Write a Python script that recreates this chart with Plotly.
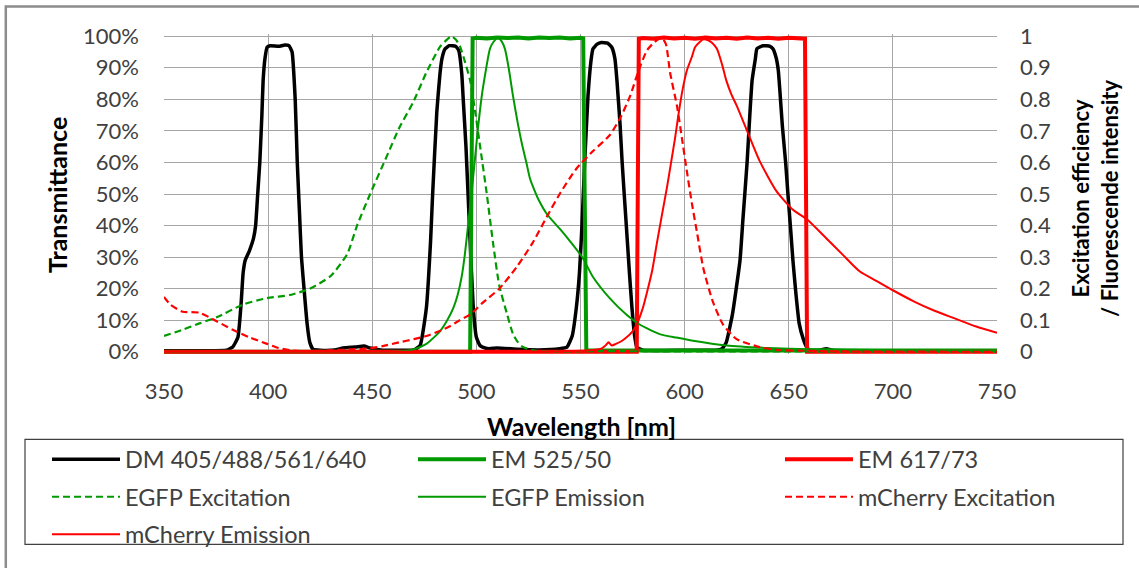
import plotly.graph_objects as go

# ---------------- data ----------------
dm_wl = [350, 370, 380, 383, 385.5, 387, 388, 389, 391, 393, 394, 395, 396, 397, 397.6, 398.5, 399.5, 401, 405, 408, 410, 411.5, 413, 414, 415, 416, 417.5, 418.7, 420, 421.5, 425, 432, 436, 442, 446, 449, 455, 465, 470, 473, 476, 478, 479, 481, 482.5, 483.5, 485, 487, 490, 491.5, 493, 493.6, 495, 496, 497, 498.5, 500, 501.7, 503, 506, 510, 520, 530, 540, 543.5, 546, 548, 549.5, 550.7, 552, 553.6, 555, 556, 558, 560, 563, 565, 566.5, 567.5, 569, 570, 572, 573.5, 574.7, 576, 577, 580, 600, 615, 618, 620, 623, 626.6, 628, 630, 631.3, 632.4, 634, 634.7, 637.6, 641, 642.4, 644, 645, 647, 648.5, 649.6, 651, 652, 653.5, 655, 657, 658.6, 660, 665, 668, 671, 690, 750]
dm_t = [0.3, 0.3, 0.5, 1.5, 4.6, 15, 25, 29, 32, 36, 40, 50, 60, 75, 86, 93, 96.5, 97, 96.8, 97.2, 97, 95, 80, 60, 45, 30, 18, 9, 3, 0.8, 0.5, 0.6, 1.2, 1.5, 1.8, 1.2, 0.5, 0.5, 0.6, 2, 14, 35, 50, 76, 88, 93, 96, 97, 96.8, 95.5, 88, 81, 65, 50, 35, 14, 4.6, 2, 1.5, 1, 1.2, 0.8, 0.6, 1, 1.5, 5, 14, 25, 40, 60, 81, 92, 96, 97.5, 98, 97.8, 96.5, 93, 86, 72, 60, 40, 25, 14, 5, 1.5, 0.5, 0.5, 0.5, 1, 3, 12, 29, 42, 60, 75, 86, 93, 96, 97, 96.8, 96, 93, 89, 71, 60, 50, 38, 29, 18, 9, 4, 1.5, 0.5, 0.5, 1, 0.5, 0.2, 0.2]

em525_wl = [350, 497, 497.6, 498.2, 500, 505, 510, 515, 520, 525, 530, 535, 540, 545, 550, 551.3, 552, 552.8, 560, 600, 650, 700, 750]
em525_t = [0, 0, 50, 99.3, 99.5, 99.3, 99.6, 99.4, 99.6, 99.3, 99.6, 99.4, 99.6, 99.3, 99.5, 99.3, 50, 0.5, 0.4, 0.4, 0.4, 0.4, 0.4]

em617_wl = [350, 577, 577.5, 578, 580, 585, 590, 595, 600, 605, 610, 615, 620, 625, 630, 635, 640, 645, 650, 655, 657.8, 658.3, 658.8, 750]
em617_t = [0, 0, 50, 99.2, 99.4, 99.2, 99.6, 99.3, 99.5, 99.2, 99.6, 99.3, 99.5, 99.2, 99.6, 99.3, 99.5, 99.2, 99.5, 99.3, 99.2, 50, 0, 0]

egfp_ex_wl = [350, 359, 367, 375.5, 388, 399.5, 410.5, 420, 430, 438, 442.7, 449, 457, 463, 469.6, 476, 482.5, 486, 488, 490, 492, 494, 497, 499, 501.7, 505, 508, 511, 514.7, 517.6, 520, 522.4, 529, 560, 750]
egfp_ex = [0.05, 0.07, 0.09, 0.11, 0.15, 0.17, 0.18, 0.20, 0.24, 0.31, 0.40, 0.50, 0.62, 0.71, 0.79, 0.885, 0.966, 0.99, 1.0, 0.99, 0.97, 0.93, 0.86, 0.78, 0.655, 0.50, 0.345, 0.21, 0.12, 0.056, 0.03, 0.015, 0.003, 0.002, 0.0]

egfp_em_wl = [350, 460, 466.7, 470, 476, 482.5, 486, 489, 491, 493, 494.5, 496, 497.3, 498.4, 499.6, 500.8, 502, 503, 505, 506.5, 508, 510.4, 512, 513.7, 515.5, 517.6, 520, 522, 524, 525.7, 528, 530, 534, 540, 545, 551, 556, 564, 572, 578, 588, 596, 604, 620, 640, 660, 700, 750]
egfp_em = [0, 0, 0.003, 0.008, 0.025, 0.065, 0.10, 0.14, 0.18, 0.24, 0.31, 0.40, 0.48, 0.55, 0.63, 0.71, 0.78, 0.83, 0.91, 0.96, 0.98, 0.995, 0.985, 0.96, 0.90, 0.81, 0.72, 0.655, 0.60, 0.55, 0.51, 0.48, 0.435, 0.39, 0.35, 0.298, 0.237, 0.17, 0.118, 0.088, 0.056, 0.045, 0.035, 0.02, 0.012, 0.008, 0.005, 0.003]

mch_ex_wl = [350, 353, 359, 367, 375.5, 383, 391, 399.5, 405, 410.5, 417, 425, 431, 440, 447.5, 455, 463, 470, 476, 482, 487, 492, 497, 503, 511, 519.5, 527, 534, 540, 548, 556, 564, 569, 573.8, 577.6, 582, 586.7, 589, 591, 593, 596.3, 598.7, 601, 603.5, 606, 609, 613.6, 618.4, 625, 636, 644, 660, 680, 750]
mch_ex = [0.174, 0.15, 0.127, 0.124, 0.096, 0.07, 0.046, 0.025, 0.012, 0.005, 0.002, 0.003, 0.005, 0.008, 0.01, 0.018, 0.03, 0.04, 0.05, 0.065, 0.08, 0.10, 0.118, 0.155, 0.20, 0.27, 0.345, 0.43, 0.50, 0.58, 0.636, 0.686, 0.74, 0.81, 0.885, 0.956, 0.988, 0.995, 0.975, 0.885, 0.78, 0.677, 0.575, 0.47, 0.376, 0.264, 0.158, 0.087, 0.04, 0.015, 0.006, 0.003, 0.001, 0.0]

mch_em_wl = [350, 520, 540, 555, 560, 562, 563.5, 565, 567, 570, 572, 575, 577, 580, 582, 584.5, 586.7, 589, 591.5, 593.5, 595.4, 597, 599, 601, 603.5, 605, 607, 609, 611, 613, 615.5, 618, 620, 622.5, 625, 630, 636, 644, 652, 658.7, 668, 676, 684, 692, 700, 710, 720, 730, 740, 750]
mch_em = [0, 0, 0.002, 0.005, 0.01, 0.02, 0.03, 0.02, 0.025, 0.035, 0.045, 0.065, 0.087, 0.14, 0.19, 0.26, 0.345, 0.43, 0.52, 0.60, 0.677, 0.75, 0.83, 0.89, 0.935, 0.965, 0.98, 0.99, 0.988, 0.98, 0.96, 0.91, 0.86, 0.815, 0.78, 0.70, 0.605, 0.51, 0.45, 0.42, 0.36, 0.307, 0.255, 0.225, 0.195, 0.16, 0.13, 0.105, 0.08, 0.06]

x_ticks = [350, 400, 450, 500, 550, 600, 650, 700, 750]
left_ticks = [0, 10, 20, 30, 40, 50, 60, 70, 80, 90, 100]
right_ticks = [0, 0.1, 0.2, 0.3, 0.4, 0.5, 0.6, 0.7, 0.8, 0.9, 1]

# ---------------- styling / layout ----------------
W, H = 1139, 568
PL, PR, PT, PB = 164, 997, 34, 360
FONT = "Lato"
BLACK = "#000000"
GREEN = "#009a00"
RED = "#ff0000"
DASH = "7px,4px"


def xp(px):
    return (px - PL) / (PR - PL)


def yp(py):
    return (PB - py) / (PB - PT)


fig = go.Figure()

fig.add_trace(go.Scatter(x=dm_wl, y=dm_t, name="DM 405/488/561/640", mode="lines",
                         line=dict(color=BLACK, width=3.5, shape="spline", smoothing=0.4),
                         legend="legend", legendgroup="a"))
fig.add_trace(go.Scatter(x=em525_wl, y=em525_t, name="EM 525/50", mode="lines",
                         line=dict(color=GREEN, width=4), legend="legend2", legendgroup="b"))
fig.add_trace(go.Scatter(x=em617_wl, y=em617_t, name="EM 617/73", mode="lines",
                         line=dict(color=RED, width=4), legend="legend3", legendgroup="c"))
fig.add_trace(go.Scatter(x=egfp_ex_wl, y=egfp_ex, name="EGFP Excitation", mode="lines", yaxis="y2",
                         line=dict(color=GREEN, width=2.2, dash=DASH, shape="spline", smoothing=0.6),
                         legend="legend", legendgroup="d"))
fig.add_trace(go.Scatter(x=egfp_em_wl, y=egfp_em, name="EGFP Emission", mode="lines", yaxis="y2",
                         line=dict(color=GREEN, width=2, shape="spline", smoothing=0.6),
                         legend="legend2", legendgroup="e"))
fig.add_trace(go.Scatter(x=mch_ex_wl, y=mch_ex, name="mCherry Excitation", mode="lines", yaxis="y2",
                         line=dict(color=RED, width=2.2, dash=DASH, shape="spline", smoothing=0.6),
                         legend="legend3", legendgroup="f"))
fig.add_trace(go.Scatter(x=mch_em_wl, y=mch_em, name="mCherry Emission", mode="lines", yaxis="y2",
                         line=dict(color=RED, width=2, shape="spline", smoothing=0.6),
                         legend="legend", legendgroup="g"))

GRID = "#a6a6a6"
TICKFONT = dict(family=FONT, size=22, color="#404040")

legend_common = dict(orientation="v", traceorder="grouped", tracegroupgap=4, itemwidth=68,
                     bgcolor="rgba(0,0,0,0)", borderwidth=0, yanchor="top", xanchor="left",
                     font=dict(family=FONT, size=23.5, color="#404040"), itemclick=False)
leg_top = yp(445)

fig.update_layout(
    width=W, height=H,
    margin=dict(l=PL, r=W - PR, t=PT, b=H - PB, pad=0),
    paper_bgcolor="white", plot_bgcolor="white",
    font=dict(family=FONT, color="#404040"),
    xaxis=dict(range=[350, 750], tickvals=x_ticks, ticktext=[str(v) for v in x_ticks],
               showgrid=True, gridcolor=GRID, gridwidth=1, zeroline=False, showline=False,
               ticks="", ticklabelstandoff=22, tickfont=TICKFONT),
    yaxis=dict(range=[-0.7, 100.7], tickvals=left_ticks, ticktext=[f"{v}%" for v in left_ticks],
               showgrid=True, gridcolor=GRID, gridwidth=1, zeroline=False, showline=False,
               ticks="", ticklabelstandoff=24, tickfont=TICKFONT),
    yaxis2=dict(range=[-0.007, 1.007], tickvals=right_ticks, ticktext=[f"{v:g}" for v in right_ticks],
                overlaying="y", side="right", showgrid=False, zeroline=False, showline=False,
                ticks="", ticklabelstandoff=22, tickfont=TICKFONT),
    legend=dict(x=xp(47), y=leg_top, **legend_common),
    legend2=dict(x=xp(413), y=leg_top, **legend_common),
    legend3=dict(x=xp(780), y=leg_top, **legend_common),
    showlegend=True,
)

fig.add_annotation(text="<b>Transmittance</b>", x=xp(57), y=yp(198), xref="paper", yref="paper",
                   textangle=-90, showarrow=False, font=dict(family=FONT, size=25, color="#000000"),
                   xanchor="center", yanchor="middle")
fig.add_annotation(text="<b>Excitation efficiency</b><br><b>/ Fluorescende intensity</b>",
                   x=xp(1095), y=yp(202), xref="paper", yref="paper",
                   textangle=-90, showarrow=False, font=dict(family=FONT, size=22, color="#000000"),
                   xanchor="center", yanchor="middle")
fig.add_annotation(text="<b>Wavelength [nm]</b>", x=xp(581), y=yp(433), xref="paper", yref="paper",
                   showarrow=False, font=dict(family=FONT, size=25, color="#000000"),
                   xanchor="center", yanchor="middle")

# legend frame and outer chart frame
fig.add_shape(type="rect", xref="paper", yref="paper", x0=xp(25), x1=xp(1123), y0=yp(447), y1=yp(554),
              line=dict(color="#404040", width=1.2), fillcolor="rgba(0,0,0,0)", layer="below")
fig.add_shape(type="rect", xref="paper", yref="paper", x0=xp(5.8), x1=xp(1170), y0=yp(6), y1=yp(620),
              line=dict(color="#8c8c8c", width=2.5), fillcolor="rgba(0,0,0,0)", layer="below")

fig.write_html("out.html")
